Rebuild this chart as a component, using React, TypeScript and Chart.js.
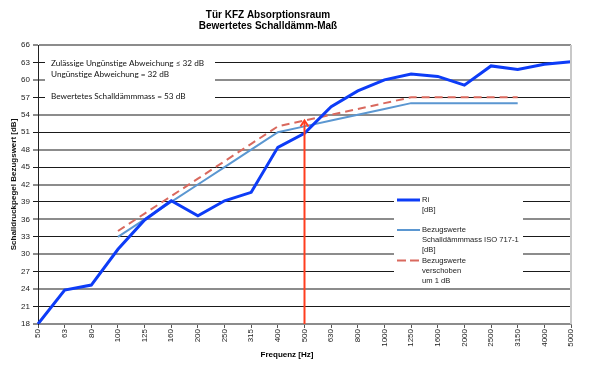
import React, { useEffect, useRef } from "react";
import { Chart, registerables } from "chart.js";

Chart.register(...registerables);

// ---- data ----
const frequencies = ["50", "63", "80", "100", "125", "160", "200", "250", "315", "400", "500", "630", "800", "1000", "1250", "1600", "2000", "2500", "3150", "4000", "5000"];
const riValues = [18, 23.85, 24.7, 30.85, 35.9, 39.2, 36.6, 39.2, 40.65, 48.4, 50.8, 55.4, 58.1, 60.0, 61.0, 60.6, 59.1, 62.4, 61.8, 62.7, 63.1];
const referenceValues = [null, null, null, 33, 36, 39, 42, 45, 48, 51, 52, 53, 54, 55, 56, 56, 56, 56, 56, null, null];
const shiftedValues = [null, null, null, 34, 37, 40, 43, 46, 49, 52, 53, 54, 55, 56, 57, 57, 57, 57, 57, null, null];
const yMin = 18;
const yMax = 66;
const yStep = 3;
const ratedFrequency = "500";
const ratedValue = 53;

const titleLines = ["Tür KFZ Absorptionsraum", "Bewertetes Schalldämm-Maß"];
const infoLines = ["Zulässige Ungünstige Abweichung ≤ 32 dB", "Ungünstige Abweichung = 32 dB", "Bewertetes Schalldämmmass = 53 dB"];
const xTitle = "Frequenz [Hz]";
const yTitle = "Schalldruckpegel Bezugswert [dB]";
const legendRi = ["Ri", "[dB]"];
const legendRef = ["Bezugswerte", "Schalldämmmass ISO 717-1", "[dB]"];
const legendShift = ["Bezugswerte", "verschoben", "um 1 dB"];

const RI_COLOR = "#0d3cf7";
const REF_COLOR = "#5b97d1";
const SHIFT_COLOR = "#d9695e";
const ARROW_COLOR = "#ff3d1f";

const overlayPlugin = {
  id: "overlay",
  beforeDatasetsDraw(chart: any) {
    const ctx = chart.ctx;
    ctx.save();
    ctx.fillStyle = "#ffffff";
    ctx.fillRect(45, 49, 170, 56);
    ctx.fillRect(394, 188, 129, 98);
    ctx.restore();
  },
  afterDatasetsDraw(chart: any) {
    const ctx = chart.ctx;
    const xs = chart.scales.x;
    const ys = chart.scales.y;
    const idx = frequencies.indexOf(ratedFrequency);
    const x = xs.getPixelForValue(idx);
    const yTop = ys.getPixelForValue(ratedValue);
    const yBot = chart.chartArea.bottom;
    ctx.save();
    ctx.strokeStyle = ARROW_COLOR;
    ctx.lineWidth = 2;
    ctx.beginPath();
    ctx.moveTo(x, yBot);
    ctx.lineTo(x, yTop + 1);
    ctx.stroke();
    ctx.beginPath();
    ctx.moveTo(x - 4, yTop + 6);
    ctx.lineTo(x, yTop);
    ctx.lineTo(x + 4, yTop + 6);
    ctx.stroke();
    ctx.restore();
  },
  afterDraw(chart: any) {
    const ctx = chart.ctx;
    const ca = chart.chartArea;
    ctx.save();
    // right border
    ctx.strokeStyle = "#c8c8c8";
    ctx.lineWidth = 2;
    ctx.beginPath();
    ctx.moveTo(ca.right, ca.top);
    ctx.lineTo(ca.right, ca.bottom);
    ctx.stroke();

    // title
    ctx.fillStyle = "#000";
    ctx.textAlign = "center";
    ctx.textBaseline = "middle";
    ctx.font = "bold 10px 'Liberation Sans', Arial, sans-serif";
    ctx.fillText(titleLines[0], 268, 15);
    ctx.fillText(titleLines[1], 268, 26);

    // x title
    ctx.font = "bold 8px 'Liberation Sans', Arial, sans-serif";
    ctx.fillText(xTitle, 287, 355);

    // info text
    ctx.textAlign = "left";
    ctx.fillStyle = "#111";
    ctx.font = "8.2px Lato, 'Open Sans', sans-serif";
    ctx.fillText(infoLines[0], 51, 63.5);
    ctx.fillText(infoLines[1], 51, 74);
    ctx.fillText(infoLines[2], 51, 96);

    // legend
    ctx.font = "7.6px 'Liberation Sans', Arial, sans-serif";
    const lx0 = 397;
    const lx1 = 420;
    const tx = 422;
    const lh = 10;
    const drawItem = (y: number, color: string, width: number, dash: number[], lines: string[]) => {
      ctx.save();
      ctx.strokeStyle = color;
      ctx.lineWidth = width;
      ctx.setLineDash(dash);
      ctx.beginPath();
      ctx.moveTo(lx0, y);
      ctx.lineTo(lx1, y);
      ctx.stroke();
      ctx.restore();
      lines.forEach((t, i) => ctx.fillText(t, tx, y + i * lh));
    };
    ctx.fillStyle = "#1a1a1a";
    drawItem(200, RI_COLOR, 3, [], legendRi);
    drawItem(230, REF_COLOR, 2, [], legendRef);
    drawItem(260.5, SHIFT_COLOR, 2, [9, 4], legendShift);
    ctx.restore();
  },
};

export default function App() {
  const ref = useRef<HTMLCanvasElement | null>(null);
  useEffect(() => {
    if (!ref.current) return;
    const chart = new Chart(ref.current, {
      type: "line",
      data: {
        labels: frequencies,
        datasets: [
          {
            label: "Ri [dB]",
            data: riValues,
            borderColor: RI_COLOR,
            borderWidth: 3,
            pointRadius: 0,
            tension: 0,
          },
          {
            label: "Bezugswerte Schalldämmmass ISO 717-1 [dB]",
            data: referenceValues as any,
            borderColor: REF_COLOR,
            borderWidth: 2,
            pointRadius: 0,
            tension: 0,
          },
          {
            label: "Bezugswerte verschoben um 1 dB",
            data: shiftedValues as any,
            borderColor: SHIFT_COLOR,
            borderWidth: 2,
            borderDash: [8, 5],
            pointRadius: 0,
            tension: 0,
          },
        ],
      },
      options: {
        responsive: false,
        animation: false,
        devicePixelRatio: 1,
        layout: { padding: { top: 45, right: 29, left: 0, bottom: 0 } },
        plugins: {
          legend: { display: false },
          tooltip: { enabled: false },
          title: { display: false },
        },
        scales: {
          x: {
            type: "category",
            offset: false,
            afterFit: (s: any) => {
              s.height = 46;
            },
            grid: {
              display: true,
              drawOnChartArea: false,
              drawTicks: true,
              tickLength: 4,
              color: "#555",
              offset: false,
            },
            border: { display: true, color: "#8c8c8c", width: 2 },
            ticks: {
              autoSkip: false,
              minRotation: 90,
              maxRotation: 90,
              padding: 1,
              color: "#222",
              font: { family: "'Liberation Sans', Arial, sans-serif", size: 8 },
            },
          },
          y: {
            min: yMin,
            max: yMax,
            afterFit: (s: any) => {
              s.width = 38;
            },
            ticks: {
              stepSize: yStep,
              padding: 3,
              color: "#222",
              font: { family: "'Liberation Sans', Arial, sans-serif", size: 8 },
            },
            grid: {
              color: (c: any) => (c.tick && c.tick.value % 6 === 0 ? "#8c8c8c" : "#1a1a1a"),
              lineWidth: (c: any) => (c.tick && c.tick.value % 6 === 0 ? 2 : 1),
              tickLength: 5,
            },
            border: { display: true, color: "#222", width: 1 },
            title: {
              display: true,
              text: yTitle,
              color: "#111",
              padding: { top: 9, bottom: 0 },
              font: { family: "'Liberation Sans', Arial, sans-serif", size: 8, weight: "bold" },
            },
          },
        },
      },
      plugins: [overlayPlugin],
    });
    return () => chart.destroy();
  }, []);
  return (
    <div style={{ position: "absolute", left: 0, top: 0, width: 600, height: 370, background: "#fff" }}>
      <canvas ref={ref} width={600} height={370} style={{ display: "block" }} />
    </div>
  );
}
